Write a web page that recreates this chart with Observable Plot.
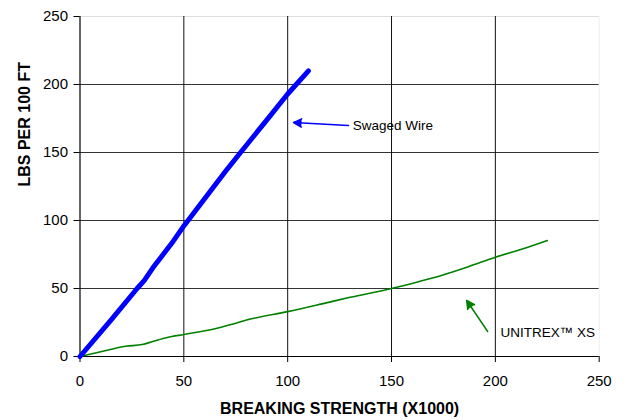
<!DOCTYPE html>
<html>
<head>
<meta charset="utf-8">
<script src="https://cdn.jsdelivr.net/npm/d3@7"></script>
<script src="https://cdn.jsdelivr.net/npm/@observablehq/plot@0.6"></script>
<style>
  html, body { margin: 0; padding: 0; background: #fff; }
  #chart svg { display: block; }
</style>
</head>
<body>
<div id="chart"></div>
<script>
// Swaged Wire series (breaking strength x1000, lbs per 100 ft)
const swagedX = [0, 15, 27.5, 31, 35, 39, 45, 50, 60, 70, 77.3, 90, 100, 110];
const swagedY = [0, 27, 50, 56, 65, 73, 85, 96, 116, 136, 150, 174, 193, 210];
// UNITREX XS series
const unitrexX = [0, 10, 22, 30, 35, 42, 50, 64, 75, 82, 100, 116, 130, 150, 163, 174, 187, 200, 213, 225];
const unitrexY = [0, 3.5, 7.5, 8.8, 11, 14, 16.2, 20, 24.5, 27.5, 33, 38.5, 43.5, 50, 55, 59.6, 66, 73, 79, 85.3];
// Axis ticks
const xTicks = [0, 50, 100, 150, 200, 250];
const yTicks = [0, 50, 100, 150, 200, 250];
const xInnerGrid = [50, 100, 150, 200];
const yInnerGrid = [50, 100, 150, 200];
// Labels
const xTitle = "BREAKING STRENGTH (X1000)";
const yTitle = "LBS PER 100 FT";
// Annotations
const annoLabels = ["Swaged Wire", "UNITREX\u2122 XS"];
const annoTailX = [129.3, 196.3];
const annoTailY = [169.9, 18.4];
const annoHeadX = [102.8, 186.2];
const annoHeadY = [172, 41.2];
const annoTextX = [131.3, 202.5];
const annoTextY = [169.9, 17.2];
const annoColors = ["#0000ff", "#008000"];

const swaged = swagedX.map((x, i) => ({x, y: swagedY[i]}));
const unitrex = unitrexX.map((x, i) => ({x, y: unitrexY[i]}));
const annos = annoLabels.map((t, i) => ({
  t, x1: annoTailX[i], y1: annoTailY[i], x2: annoHeadX[i], y2: annoHeadY[i],
  tx: annoTextX[i], ty: annoTextY[i], c: annoColors[i]
}));

const chart = Plot.plot({
  width: 626,
  height: 420,
  marginLeft: 79.5,
  marginRight: 27.3,
  marginTop: 16,
  marginBottom: 64,
  style: { fontFamily: "'Liberation Sans', Arial, sans-serif", background: "#fff", overflow: "visible" },
  x: { domain: [0, 250] },
  y: { domain: [0, 250] },
  marks: [
    Plot.ruleY([250], { stroke: "#dddddd", strokeWidth: 1 }),
    Plot.ruleX([250], { stroke: "#eeeeee", strokeWidth: 1 }),
    Plot.ruleY(yInnerGrid, { stroke: "#333", strokeWidth: 1 }),
    Plot.ruleX(xInnerGrid, { stroke: "#111", strokeWidth: 1 }),
    Plot.axisX({ ticks: xTicks, tickSize: 6, tickPadding: 13, fontSize: 15, label: null, stroke: "#000" }),
    Plot.axisY({ ticks: yTicks, tickSize: 6, tickPadding: 6, fontSize: 15, label: null, stroke: "#000" }),
    Plot.ruleX([0], { stroke: "#000", strokeWidth: 1.2 }),
    Plot.ruleY([0], { stroke: "#000", strokeWidth: 1.2 }),
    Plot.line(unitrex, { x: "x", y: "y", stroke: "#008000", strokeWidth: 1.6, curve: "monotone-x" }),
    Plot.line(swaged, { x: "x", y: "y", stroke: "#0000ff", strokeWidth: 5, strokeLinecap: "round", strokeLinejoin: "round" }),
    Plot.arrow(annos, { x1: "x1", y1: "y1", x2: "x2", y2: "y2", stroke: "c", fill: "c", strokeWidth: 1.5, headLength: 9, headAngle: 55 }),
    Plot.text(annos, { x: "tx", y: "ty", text: "t", textAnchor: "start", fontSize: 13.5, fill: "#000", letterSpacing: "0.4px" }),
    Plot.text([xTitle], { frameAnchor: "bottom", dy: 57, fontSize: 16, fontWeight: "bold", fill: "#000" }),
    Plot.text([yTitle], { frameAnchor: "left", dx: -55, rotate: -90, fontSize: 16, fontWeight: "bold", fill: "#000" })
  ]
});
document.getElementById("chart").append(chart);
</script>
</body>
</html>
